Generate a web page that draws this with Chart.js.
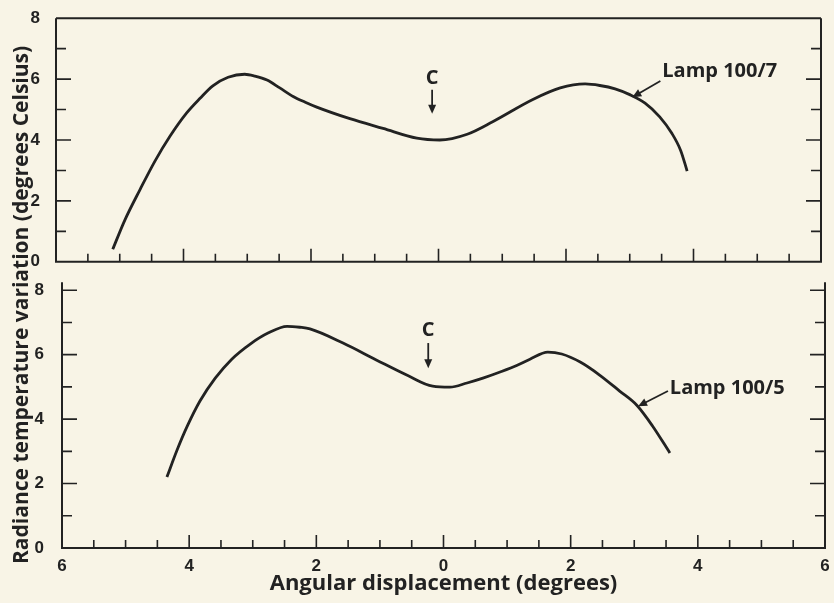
<!DOCTYPE html>
<html>
<head>
<meta charset="utf-8">
<script src="https://cdn.jsdelivr.net/npm/chart.js@4/dist/chart.umd.min.js"></script>
<style>
  body { margin: 0; background: #f8f4e6; }
  #wrap { position: relative; width: 834px; height: 603px; overflow: hidden; }
  canvas { position: absolute; left: 0; }
  #topChart { top: 0; }
  #botChart { top: 270px; }
  #ylabel {
    position: absolute; left: 7px; top: 38px; height: 534px; width: 26px;
    writing-mode: vertical-rl; transform: rotate(180deg); text-align: center;
    white-space: nowrap; font: bold 21px "Open Sans"; line-height: 26px; color: #222;
  }
</style>
</head>
<body>
<div id="wrap">
  <canvas id="topChart" width="834" height="280"></canvas>
  <canvas id="botChart" width="834" height="333"></canvas>
  <div id="ylabel">Radiance temperature variation (degrees Celsius)</div>
</div>
<script>
// angular displacement (left side negative), radiance temperature variation
var lamp7X = [-5.11, -4.92, -4.68, -4.45, -4.21, -3.95, -3.74, -3.54, -3.30, -3.04, -2.88, -2.69, -2.49, -2.28, -2.09, -1.91, -1.39, -0.87, -0.34, 0.02, 0.45, 0.85, 1.48, 1.91, 2.30, 2.53, 2.77, 3.00, 3.24, 3.47, 3.66, 3.80, 3.90];
var lamp7Y = [0.41, 1.37, 2.38, 3.30, 4.13, 4.89, 5.37, 5.78, 6.06, 6.16, 6.10, 5.97, 5.71, 5.43, 5.24, 5.08, 4.70, 4.38, 4.06, 4.00, 4.19, 4.60, 5.33, 5.71, 5.84, 5.79, 5.68, 5.49, 5.21, 4.76, 4.22, 3.65, 2.98];
var lamp5X = [-4.35, -4.19, -4.03, -3.83, -3.59, -3.33, -3.04, -2.76, -2.46, -2.26, -2.10, -1.58, -1.05, -0.57, -0.17, 0.10, 0.37, 0.62, 0.89, 1.16, 1.36, 1.64, 1.86, 2.15, 2.46, 2.77, 3.04, 3.29, 3.56];
var lamp5Y = [2.20, 3.04, 3.78, 4.56, 5.27, 5.86, 6.33, 6.67, 6.88, 6.85, 6.80, 6.36, 5.83, 5.36, 5.02, 4.99, 5.12, 5.27, 5.46, 5.67, 5.86, 6.08, 6.02, 5.77, 5.36, 4.87, 4.43, 3.78, 2.95];
var xTicks = [-6, -4, -2, 0, 2, 4, 6];
var yTicks = [0, 2, 4, 6, 8];

var ink = "#222";
Chart.defaults.font.family = "Liberation Sans";

function pts(xs, ys) {
  return xs.map(function (x, i) { return { x: x, y: ys[i] }; });
}

function drawArrow(ctx, x1, y1, x2, y2) {
  var ang = Math.atan2(y2 - y1, x2 - x1);
  ctx.beginPath();
  ctx.moveTo(x1, y1);
  ctx.lineTo(x2 - 5 * Math.cos(ang), y2 - 5 * Math.sin(ang));
  ctx.stroke();
  ctx.beginPath();
  ctx.moveTo(x2, y2);
  ctx.lineTo(x2 - 9 * Math.cos(ang) + 4 * Math.sin(ang), y2 - 9 * Math.sin(ang) - 4 * Math.cos(ang));
  ctx.lineTo(x2 - 9 * Math.cos(ang) - 4 * Math.sin(ang), y2 - 9 * Math.sin(ang) + 4 * Math.cos(ang));
  ctx.closePath();
  ctx.fill();
}

// axes frame with inward ticks, plus the C / Lamp notes
var framePlugin = {
  id: "frame",
  afterDatasetsDraw: function (chart, args, opts) {
    var ctx = chart.ctx, xs = chart.scales.x, ys = chart.scales.y, a = chart.chartArea;
    ctx.save();
    ctx.strokeStyle = ink;
    ctx.fillStyle = ink;
    ctx.lineWidth = 2;
    ctx.beginPath();
    ctx.moveTo(a.left, a.top - opts.ext);
    ctx.lineTo(a.left, a.bottom);
    ctx.lineTo(a.right, a.bottom);
    ctx.lineTo(a.right, a.top - opts.ext);
    if (opts.top) {
      ctx.moveTo(a.left, a.top);
      ctx.lineTo(a.right, a.top);
    }
    ctx.stroke();

    ctx.lineWidth = 1.6;
    ctx.beginPath();
    for (var v = ys.min + 1; v <= ys.max; v++) {
      if (opts.top && v === ys.max) continue;
      var py = ys.getPixelForValue(v), len = v % 2 === 0 ? 15 : 10;
      ctx.moveTo(a.left, py); ctx.lineTo(a.left + len, py);
      ctx.moveTo(a.right, py); ctx.lineTo(a.right - len, py);
    }
    for (var u = xs.min + 0.5; u < xs.max; u += 0.5) {
      var px = xs.getPixelForValue(u), l = u % 2 === 0 ? 13 : 8;
      ctx.moveTo(px, a.bottom); ctx.lineTo(px, a.bottom - l);
    }
    ctx.stroke();

    ctx.lineWidth = 1.8;
    ctx.textBaseline = "middle";
    opts.notes.forEach(function (n) {
      ctx.font = n.font;
      ctx.textAlign = n.align;
      ctx.fillText(n.text, xs.getPixelForValue(n.x), ys.getPixelForValue(n.y));
      drawArrow(ctx,
        xs.getPixelForValue(n.arrow[0]), ys.getPixelForValue(n.arrow[1]),
        xs.getPixelForValue(n.arrow[2]), ys.getPixelForValue(n.arrow[3]));
    });
    ctx.restore();
  }
};

var noteFont = 'bold 20px "Open Sans"';

function lineData(xs, ys) {
  return {
    datasets: [{
      data: pts(xs, ys),
      borderColor: ink,
      borderWidth: 2.8,
      pointRadius: 0,
      cubicInterpolationMode: "monotone",
      fill: false
    }]
  };
}

function yScale(width, pad) {
  return {
    min: 0, max: 8,
    afterFit: function (s) { s.width = width; },
    afterBuildTicks: function (s) { s.ticks = yTicks.map(function (v) { return { value: v }; }); },
    ticks: { color: ink, padding: pad, font: { size: 17, weight: "bold" } },
    grid: { display: false },
    border: { display: false }
  };
}

new Chart(document.getElementById("topChart"), {
  type: "line",
  data: lineData(lamp7X, lamp7Y),
  options: {
    responsive: false,
    animation: false,
    layout: { padding: { left: 0, right: 13, top: 13, bottom: 15 } },
    plugins: {
      legend: { display: false },
      tooltip: { enabled: false },
      frame: {
        top: true, ext: 0,
        notes: [
          { text: "C", x: -0.10, y: 6.03, align: "center", font: noteFont, arrow: [-0.10, 5.65, -0.10, 4.86] },
          { text: "Lamp 100/7", x: 3.51, y: 6.25, align: "left", font: noteFont, arrow: [3.48, 5.94, 3.04, 5.40] }
        ]
      }
    },
    scales: {
      x: { type: "linear", min: -6, max: 6, display: false },
      y: yScale(56, 8)
    }
  },
  plugins: [framePlugin]
});

new Chart(document.getElementById("botChart"), {
  type: "line",
  data: lineData(lamp5X, lamp5Y),
  options: {
    responsive: false,
    animation: false,
    layout: { padding: { left: 0, right: 9, top: 20, bottom: 0 } },
    plugins: {
      legend: { display: false },
      tooltip: { enabled: false },
      frame: {
        top: false, ext: 8,
        notes: [
          { text: "C", x: -0.24, y: 6.76, align: "center", font: noteFont, arrow: [-0.24, 6.36, -0.24, 5.58] },
          { text: "Lamp 100/5", x: 3.56, y: 4.96, align: "left", font: noteFont, arrow: [3.53, 4.87, 3.06, 4.40] }
        ]
      }
    },
    scales: {
      x: {
        type: "linear", min: -6, max: 6,
        afterFit: function (s) { s.height = 55; },
        afterBuildTicks: function (s) { s.ticks = xTicks.map(function (v) { return { value: v }; }); },
        ticks: {
          color: ink, padding: 0, maxRotation: 0,
          font: { size: 17, weight: "bold" },
          callback: function (v) { return Math.abs(v); }
        },
        grid: { display: false },
        border: { display: false },
        title: {
          display: true, text: "Angular displacement (degrees)", color: ink,
          font: { family: "Open Sans", size: 22, weight: "bold" },
          padding: { top: 0, bottom: 6 }
        }
      },
      y: yScale(62, 10)
    }
  },
  plugins: [framePlugin]
});
</script>
</body>
</html>
